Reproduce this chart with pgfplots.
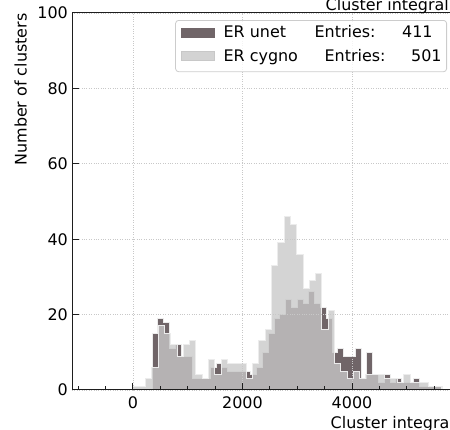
\documentclass[border=0pt]{standalone}
\usepackage{fontspec}
\setmainfont{DejaVu Sans}
\usepackage{pgfplots}
\usepackage{pgfplotstable}
\pgfplotsset{compat=1.18}
\definecolor{unetc}{RGB}{112,101,104}
\definecolor{cygc}{RGB}{200,200,200}
\definecolor{gridc}{RGB}{200,200,200}
\definecolor{spine}{RGB}{30,30,30}
\definecolor{edgec}{RGB}{236,236,236}
\definecolor{legframe}{RGB}{204,204,204}

% ER unet histogram: left bin edges and counts (last row closes the final bin)
\pgfplotstableread{
x y
350 15
456 19
562 18
668 11
774 12
880 9
986 9
1092 3
1198 3
1304 3
1410 6
1516 7
1622 6
1728 5
1834 5
1940 5
2046 5
2152 4
2258 6
2364 10
2470 15
2576 19
2682 20
2788 24
2894 22
3000 24
3106 23
3212 26
3318 23
3424 22
3530 19
3636 10
3742 11
3848 9
3954 9
4060 11
4166 3
4272 10
4378 4
4484 2
4590 4
4696 2
4802 3
4908 2
5014 2
5120 3
5226 1
5332 1
5438 1
5544 1
5650 0
}\unet

% ER cygno histogram
\pgfplotstableread{
x y
0 1
115 1
230 3
345 6
460 17
575 15
690 12
805 9
920 12
1035 13
1150 4
1265 3
1380 8
1495 4
1610 8
1725 7
1840 7
1955 7
2070 3
2185 7
2300 13
2415 16
2530 33
2645 39
2760 46
2875 44
2990 36
3105 27
3220 29
3335 31
3450 16
3565 21
3680 7
3795 5
3910 3
4025 5
4140 3
4255 4
4370 4
4485 4
4600 3
4715 3
4830 2
4945 4
5060 2
5175 2
5290 2
5405 1
5520 1
5635 0
5750 0
}\cygno

\begin{document}
\begin{tikzpicture}
\begin{axis}[
  at={(72bp,40bp)}, anchor=south west,
  width=383bp, height=377bp, scale only axis,
  xmin=-1114, xmax=5881, ymin=0, ymax=100,
  axis on top,
  axis line style={spine, line width=1bp},
  xtick={0,2000,4000},
  minor xtick={-1000,-500,500,1000,1500,2500,3000,3500,4500,5000,5500},
  ytick={0,20,40,60,80,100},
  tick align=inside, xtick pos=bottom, ytick pos=left,
  major tick length=7bp, minor tick length=4bp,
  every tick/.style={spine, line width=1bp},
  xmajorgrids, ymajorgrids,
  major grid style={gridc, dotted, line width=0.8bp},
  tick label style={font=\fontsize{16}{19}\selectfont},
  /pgf/number format/assume math mode=true,
  /pgf/number format/1000 sep={},
  scaled ticks=false,
  yticklabel style={inner sep=0pt, xshift=-4bp},
  xticklabel style={inner sep=0pt, yshift=-6bp},
  legend style={
    at={(0.9791,0.9814)}, anchor=north east,
    draw=legframe, line width=0.8bp, rounded corners=3bp,
    fill=white, fill opacity=0.8, text opacity=1,
    inner xsep=5bp, inner ysep=5.5bp,
    font=\fontsize{16}{19}\selectfont,
    nodes={inner sep=0pt, text height=12bp, text depth=5bp},
    cells={anchor=base west},
    column sep=9bp, row sep=6.3bp,
  },
]
\addplot[const plot, draw=edgec, line width=1bp, fill=unetc,
  legend image code/.code={\fill[unetc, fill opacity=1, sharp corners] (0bp,0.4bp) rectangle (33bp,9.4bp);}]
  table[x=x, y=y] {\unet} \closedcycle;
\addlegendentry{\makebox[91bp][l]{ER unet}\makebox[118bp][l]{Entries:\hfill 411}}
\addplot[const plot, draw=edgec, line width=1bp, fill=cygc, fill opacity=0.785,
  legend image code/.code={\fill[cygc, fill opacity=0.785, sharp corners] (0bp,0.4bp) rectangle (33bp,9.4bp);}]
  table[x=x, y=y] {\cygno} \closedcycle;
\addlegendentry{\makebox[101bp][l]{ER cygno}\makebox[117bp][l]{Entries:\hfill 501}\hspace{2bp}}
\end{axis}
\node[anchor=base east, inner sep=0pt, font=\fontsize{16}{19}\selectfont] at (449bp,419.5bp) {Cluster integral};
\node[anchor=base east, inner sep=0pt, font=\fontsize{16}{19}\selectfont] at (454bp,2bp) {Cluster integral};
\node[anchor=base east, rotate=90, inner sep=0pt, font=\fontsize{16}{19}\selectfont] at (26.7bp,416.7bp) {Number of clusters};
\pgfresetboundingbox
\path[use as bounding box] (0,0) rectangle (450bp,430bp);
\end{tikzpicture}
\end{document}
